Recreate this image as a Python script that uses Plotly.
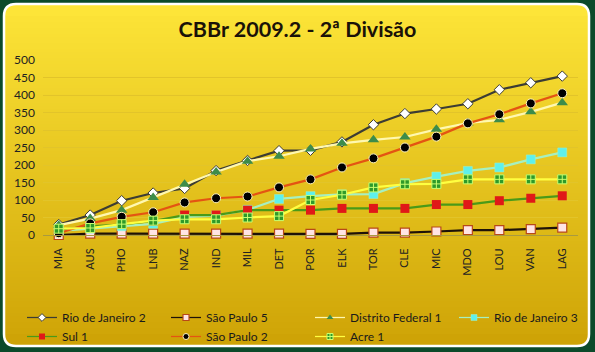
import plotly.graph_objects as go

categories = ["MIA", "AUS", "PHO", "LNB", "NAZ", "IND", "MIL", "DET", "POR",
              "ELK", "TOR", "CLE", "MIC", "MDO", "LOU", "VAN", "LAG"]
rio2 = [30, 57, 98, 120, 133, 184, 213, 241, 242, 266, 315, 347, 360, 375, 415, 435, 454]
sp5 = [0, 4, 4, 4, 4, 4, 4, 4, 3, 3, 7, 7, 10, 14, 14, 17, 21]
df1 = [28, 47, 71, 107, 145, 180, 211, 225, 246, 262, 272, 280, 302, 320, 329, 352, 378]
rio3 = [12, 18, 25, 32, 52, 55, 72, 103, 111, 116, 117, 148, 167, 183, 193, 216, 236]
sul1 = [15, 25, 30, 40, 57, 57, 71, 71, 71, 76, 76, 76, 87, 87, 98, 105, 112]
sp2 = [5, 33, 52, 65, 93, 105, 110, 136, 159, 193, 219, 250, 281, 319, 345, 376, 405]
acre1 = [18, 20, 31, 41, 45, 45, 50, 54, 100, 115, 136, 145, 146, 159, 159, 159, 159]

W, H = 595, 352
ML, MR, MT, MB = 43, 17, 60, 117
PW, PH = W - ML - MR, H - MT - MB


def px(x):
    return (x - ML) / PW


def py(y):
    return (H - MB - y) / PH


FONT = "Lato, 'Open Sans', sans-serif"

series = [
    ("Rio de Janeiro 2", rio2, dict(color="#3c3c34", width=2.25),
     dict(symbol="diamond", size=8, color="#ffffff", line=dict(color="#3c3c34", width=1))),
    ("São Paulo 5", sp5, dict(color="#1e1208", width=2.25),
     dict(symbol="square", size=9, color="#ffe4e4", line=dict(color="#b84818", width=1.2))),
    ("Distrito Federal 1", df1, dict(color="#fff8b0", width=2.25),
     dict(symbol="triangle-up", size=10, color="#3d8c4a", line=dict(color="#3d8c4a", width=0))),
    ("Rio de Janeiro 3", rio3, dict(color="#a6f0c0", width=2.25),
     dict(symbol="square", size=9, color="#5ef0ec", line=dict(color="#a6f0c0", width=0.5))),
    ("Sul 1", sul1, dict(color="#4a9a18", width=2.25),
     dict(symbol="square", size=9, color="#e01818", line=dict(color="#e01818", width=0))),
    ("São Paulo 2", sp2, dict(color="#e45412", width=2.25),
     dict(symbol="circle", size=9, color="#000000", line=dict(color="#fff4c0", width=1))),
    ("Acre 1", acre1, dict(color="#ffff40", width=2.25),
     dict(symbol="square-cross", size=9, color="#2e9a2a", line=dict(color="#c8ff70", width=1))),
]

fig = go.Figure()
for name, vals, ln, mk in series:
    fig.add_trace(go.Scatter(x=categories, y=vals, name=name, mode="lines+markers",
                             line=ln, marker=mk, cliponaxis=False, showlegend=False,
                             legendgroup=name))
# legend entries with smaller sample markers
for name, vals, ln, mk in series:
    small = dict(mk)
    small["size"] = 6
    small_line = dict(ln)
    small_line["width"] = 1.25
    fig.add_trace(go.Scatter(x=[None], y=[None], name=name, mode="lines+markers",
                             line=small_line, marker=small, showlegend=True,
                             legendgroup=name, hoverinfo="skip"))

# background panel with gradient
shapes = []
x0, x1, y0, y1, r = 4, 589, 4, 346, 12
top_c = (253, 229, 56)
bot_c = (206, 163, 6)


def lerp(t):
    return "rgb(%d,%d,%d)" % tuple(int(round(a + (b - a) * t)) for a, b in zip(top_c, bot_c))


def rpath(xa, xb, ya, yb, rt, rb):
    P = []
    P.append("M %f,%f" % (px(xa + rt), py(ya)))
    P.append("L %f,%f" % (px(xb - rt), py(ya)))
    P.append("Q %f,%f %f,%f" % (px(xb), py(ya), px(xb), py(ya + rt)))
    P.append("L %f,%f" % (px(xb), py(yb - rb)))
    P.append("Q %f,%f %f,%f" % (px(xb), py(yb), px(xb - rb), py(yb)))
    P.append("L %f,%f" % (px(xa + rb), py(yb)))
    P.append("Q %f,%f %f,%f" % (px(xa), py(yb), px(xa), py(yb - rb)))
    P.append("L %f,%f" % (px(xa), py(ya + rt)))
    P.append("Q %f,%f %f,%f" % (px(xa), py(ya), px(xa + rt), py(ya)))
    P.append("Z")
    return " ".join(P)


shapes.append(dict(type="path", xref="paper", yref="paper", layer="below",
                   path=rpath(x0, x1, y0, 180, r, 0), fillcolor=lerp(0), line=dict(width=0)))
shapes.append(dict(type="path", xref="paper", yref="paper", layer="below",
                   path=rpath(x0, x1, 170, y1, 0, r), fillcolor=lerp(1), line=dict(width=0)))
band = 3
yy = y0 + r
while yy < y1 - r:
    t = (yy + band / 2 - y0) / (y1 - y0)
    shapes.append(dict(type="rect", xref="paper", yref="paper", layer="below",
                       x0=px(x0), x1=px(x1), y0=py(yy), y1=py(min(yy + band + 0.5, y1 - r)),
                       fillcolor=lerp(t), line=dict(width=0)))
    yy += band
shapes.append(dict(type="path", xref="paper", yref="paper", layer="below",
                   path=rpath(x0, x1, y0, y1, r, r), fillcolor="rgba(0,0,0,0)",
                   line=dict(color="#ffffff", width=2.5)))

fig.update_layout(
    width=W, height=H,
    margin=dict(l=ML, r=MR, t=MT, b=MB, autoexpand=False),
    paper_bgcolor="#0c4a2a",
    plot_bgcolor="rgba(0,0,0,0)",
    shapes=shapes,
    title=dict(text="<b>CBBr 2009.2 - 2ª Divisão</b>", x=0.5, xref="container", xanchor="center",
               y=1 - 29 / H, yanchor="middle", font=dict(family=FONT, size=21.5, color="#1a1208")),
    font=dict(family=FONT, size=11, color="#222222"),
    showlegend=True,
    legend=dict(orientation="h", x=px(22), xanchor="left", y=py(303), yanchor="top",
                entrywidth=99, entrywidthmode="pixels", itemwidth=30,
                font=dict(family=FONT, size=12, color="#1a1a1a"),
                bgcolor="rgba(0,0,0,0)", tracegroupgap=0),
    xaxis=dict(type="category", range=[-0.5, 16.5], tickangle=-90, showgrid=False,
               showline=True, linecolor="#a89a40", linewidth=1, ticks="", ticklabelstandoff=8,
               tickfont=dict(size=11, color="#222222"), fixedrange=True),
    yaxis=dict(range=[0, 500], dtick=50, showgrid=True, gridcolor="#e2c42a", gridwidth=1,
               zeroline=False, showline=False, ticks="", ticklabelstandoff=7,
               tickfont=dict(size=12, color="#222222"), fixedrange=True),
)

fig.write_html("out.html")
